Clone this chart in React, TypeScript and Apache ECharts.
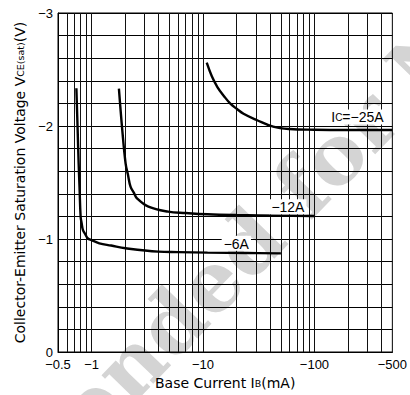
import React, { useEffect, useRef } from "react";
import * as echarts from "echarts";

// Magnitudes (PNP device: all currents and voltages are negative)
// Base current |IB| in mA and |VCE(sat)| in V for each collector current
const ib6 = [0.731, 0.75, 0.766, 0.78, 0.798, 0.815, 0.836, 0.87, 0.926, 1.0, 1.174, 1.5, 2.02, 3.97, 6, 10.98, 25, 50];
const vce6 = [2.334, 1.97, 1.67, 1.458, 1.197, 1.14, 1.08, 1.05, 1.006, 0.99, 0.962, 0.942, 0.918, 0.888, 0.884, 0.879, 0.876, 0.873];

const ib12 = [1.76, 1.886, 2.02, 2.12, 2.237, 2.4, 2.557, 3.24, 4.86, 7.0, 10.98, 20, 50, 100];
const vce12 = [2.33, 1.965, 1.67, 1.57, 1.463, 1.408, 1.36, 1.286, 1.242, 1.23, 1.219, 1.212, 1.206, 1.204];

const ib25 = [10.8, 12.0, 13.46, 15.5, 17.6, 20.2, 23.1, 30.3, 42.6, 59.7, 100, 200, 500];
const vce25 = [2.56, 2.44, 2.345, 2.262, 2.198, 2.15, 2.108, 2.053, 1.994, 1.973, 1.967, 1.965, 1.965];

// curve labels: text, position (mA, V)
const labelTexts = ["−6A", "−12A", "{i|I}{s|C}{i|=−25A}"];
const labelIb = [19.9, 57.8, 243];
const labelV = [0.962, 1.286, 2.08];

// log grid lines (mA)
const gridCurrents = [
  0.6, 0.7, 0.8, 0.9, 1, 2, 3, 4, 5, 6, 7, 8, 9, 10, 20, 30, 40, 50, 60, 70, 80, 90, 100, 200, 300, 400,
];

const xMin = 0.5;
const xMax = 500;
const yMin = 0;
const yMax = 3;
const yStep = 0.2;

const FONT = "Liberation Sans";
const NAME_FONT = "DejaVu Sans";

function pairs(xs: number[], ys: number[]) {
  return xs.map((x, i) => [x, ys[i]]);
}

const labelStyle = {
  show: true,
  position: "inside",
  color: "#000",
  fontSize: 14,
  fontFamily: FONT,
  backgroundColor: "#fff",
  padding: [1, 2, 0, 2],
  rich: {
    i: { fontSize: 14, fontFamily: FONT, color: "#000" },
    s: { fontSize: 10, fontFamily: FONT, color: "#000" },
  },
};

function curve(name: string, xs: number[], ys: number[], idx: number, extra: any = {}) {
  return {
    name,
    type: "line",
    data: pairs(xs, ys),
    showSymbol: false,
    smooth: 0.4,
    lineStyle: { color: "#000", width: 2.4 },
    z: 5,
    markPoint: {
      silent: true,
      symbol: "circle",
      symbolSize: 1,
      itemStyle: { color: "rgba(0,0,0,0)" },
      z: 6,
      label: labelStyle,
      data: [
        {
          coord: [labelIb[idx], labelV[idx]],
          value: labelTexts[idx],
          label: { ...labelStyle, formatter: labelTexts[idx] },
        },
      ],
    },
    ...extra,
  };
}

export default function App() {
  const ref = useRef<HTMLDivElement>(null);
  useEffect(() => {
    if (!ref.current) return;
    const chart = echarts.init(ref.current, null, { renderer: "svg" });
    chart.setOption({
      animation: false,
      backgroundColor: "#fff",
      grid: {
        left: 58,
        top: 13,
        right: 12,
        bottom: 43,
        show: true,
        borderColor: "#000",
        borderWidth: 1,
        backgroundColor: "transparent",
      },
      graphic: [
        {
          type: "text",
          x: 220,
          y: 273,
          rotation: (46 * Math.PI) / 180,
          z: -10,
          silent: true,
          style: {
            text: "Not Recommended for New Design",
            x: 0,
            y: 0,
            align: "center",
            verticalAlign: "middle",
            fontSize: 83,
            fontWeight: "bold",
            fontFamily: "DejaVu Serif",
            fill: "#d4d4d4",
          },
        },
      ],
      xAxis: {
        type: "log",
        logBase: 10,
        min: xMin,
        max: xMax,
        name: "{a|Base Current I}{b|B}{a|(mA)}",
        nameLocation: "middle",
        nameGap: 24,
        nameTextStyle: {
          rich: {
            a: { fontSize: 14, fontFamily: NAME_FONT, color: "#000" },
            b: { fontSize: 9.5, fontFamily: NAME_FONT, color: "#000" },
          },
        },
        axisLine: { show: true, lineStyle: { color: "#000", width: 1 } },
        axisTick: { show: false },
        splitLine: { show: false },
        axisLabel: {
          margin: 6,
          color: "#000",
          fontSize: 13,
          fontFamily: FONT,
          formatter: (v: number) => {
            const r = Math.round(v * 100) / 100;
            return "−" + r;
          },
        },
      },
      yAxis: {
        type: "value",
        min: yMin,
        max: yMax,
        interval: yStep,
        name: "{a|Collector-Emitter Saturation Voltage V}{b|CE(sat)}{a|(V)}",
        nameLocation: "middle",
        nameGap: 30,
        nameTextStyle: {
          rich: {
            a: { fontSize: 14, fontFamily: NAME_FONT, color: "#000" },
            b: { fontSize: 9.5, fontFamily: NAME_FONT, color: "#000" },
          },
        },
        axisLine: { show: true, lineStyle: { color: "#000", width: 1 } },
        axisTick: { show: false },
        splitLine: { show: true, lineStyle: { color: "#000", width: 1 } },
        axisLabel: {
          margin: 5,
          color: "#000",
          fontSize: 13,
          fontFamily: FONT,
          formatter: (v: number) => {
            const r = Math.round(v);
            if (Math.abs(v - r) > 1e-6) return "";
            return r === 0 ? "0" : "−" + r;
          },
        },
      },
      series: [
        curve("-6A", ib6, vce6, 0, {
          markLine: {
            silent: true,
            symbol: ["none", "none"],
            label: { show: false },
            lineStyle: { color: "#111", width: 1, type: "solid" },
            z: 1,
            data: gridCurrents.map((v) => ({ xAxis: v })),
          },
        }),
        curve("-12A", ib12, vce12, 1),
        curve("-25A", ib25, vce25, 2),
      ],
    });
    return () => chart.dispose();
  }, []);
  return <div ref={ref} style={{ width: 410, height: 395, position: "absolute", left: 0, top: 0 }} />;
}
